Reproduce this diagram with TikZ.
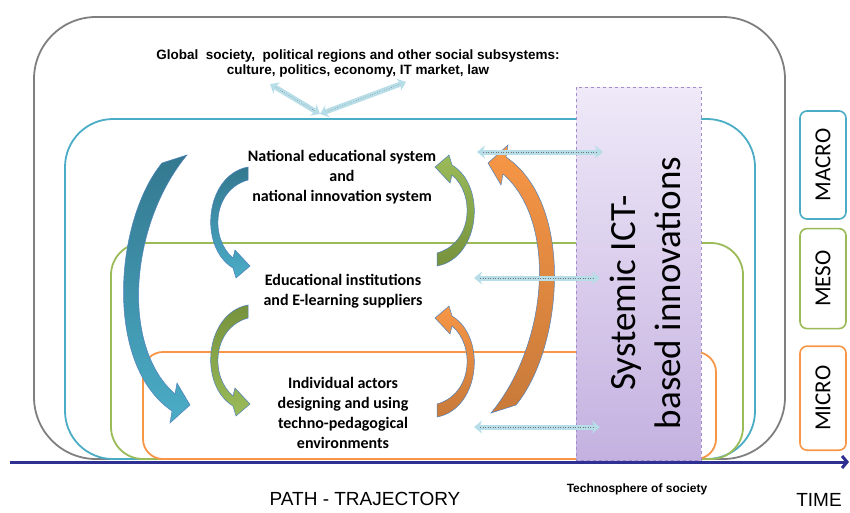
\documentclass[tikz,border=0pt]{standalone}
\usepackage{fontspec}
\setmainfont{Carlito}
\newfontfamily\arialfont{Liberation Sans}
\usetikzlibrary{positioning,arrows.meta}

\definecolor{macroblue}{HTML}{4BACC6}
\definecolor{mesogreen}{HTML}{9BBB59}
\definecolor{microorange}{HTML}{F79646}
\definecolor{outergray}{HTML}{7F7F7F}
\definecolor{axisnavy}{HTML}{2E3192}
\definecolor{linkcyan}{HTML}{B7DEE8}
\definecolor{ictlight}{HTML}{EFE9F8}
\definecolor{ictdark}{HTML}{C4B1E0}
\definecolor{ictborder}{HTML}{A48BC9}
\definecolor{bluedark}{HTML}{33788F}
\definecolor{greendark}{HTML}{76923C}
\definecolor{orangedark}{HTML}{C87A3A}
\definecolor{outlineblue}{HTML}{4F81BD}

\tikzset{
    curveline/.style={draw=outlineblue, line width=0.5pt},
    pics/smallcurve/.style 2 args={code={
        \shade[curveline, top color=#1, bottom color=#2]
            (18,-50) .. controls (-25,-42) and (-32,30) .. (3,51)
            -- (6,61) -- (20,49) -- (5,33) -- (3,41)
            .. controls (-20,22) and (-18,-27) .. (18,-37) -- cycle;
    }},
    pics/bigcurve/.style 2 args={code={
        \shade[curveline, top color=#1, bottom color=#2]
            (-13,-121) .. controls (-60,-64) and (-72,80) .. (-3,127)
            -- (-5,139) -- (15,121) -- (2,99) -- (0,110)
            .. controls (-55,62) and (-45,-60) .. (12,-129) -- cycle;
    }}
}

\begin{document}
\begin{tikzpicture}[x=1pt, y=-1pt,
        ring/.style={rounded corners=#1, line width=1.8pt},
        lvltag/.style={draw, rounded corners=7pt, line width=1.6pt, minimum width=46pt, inner sep=0pt, font=\fontsize{23}{23}\selectfont},
        actor/.style={align=center, font=\fontsize{16}{20}\selectfont\bfseries},
        dblarrow/.style={linkcyan, line width=5pt, {Stealth[length=8pt, width=13pt]}-{Stealth[length=8pt, width=13pt]},
            postaction={draw=black!55, line width=0.5pt, dotted, -, shorten <=6pt, shorten >=6pt}}
    ]
    \useasboundingbox (0,0) rectangle (850,512);

    % Nested levels
    \draw[ring=62pt, outergray] (34,17) rectangle (785,459);
    \draw[ring=48pt, macroblue] (65,119) rectangle (755,459);
    \draw[ring=32pt, mesogreen] (111,243) rectangle (743,459);
    \draw[ring=20pt, microorange] (143,352) rectangle (716,459);

    % Innovation column
    \shade[top color=ictlight, bottom color=ictdark, draw=ictborder, dashed, line width=0.6pt] (576,87) rectangle (701,460);
    \node[rotate=90, align=center, font=\fontsize{37}{45}\selectfont] (ict) at (645,293) {Systemic ICT-\\based innovations};

    % Time axis
    \coordinate (t0) at (10,462);
    \coordinate (t1) at (849,462);
    \draw[axisnavy, line width=3pt, -{Straight Barb[length=5pt, width=12pt]}] (t0) -- (t1);

    % Level texts
    \node[align=center, font=\arialfont\fontsize{13.5}{15}\selectfont\bfseries] (global) at (358,64)
        {Global\ \ society,\ \ political regions and other social subsystems:\\culture, politics, economy, IT market, law};
    \node[actor] (national) at (342,177) {National educational system\\and\\national innovation system};
    \node[actor] (institutions) at (343,291) {Educational institutions\\and E-learning suppliers};
    \node[actor] (individual) at (343,413) {Individual actors\\designing and using\\techno-pedagogical\\environments};

    % Curved flows
    \pic at (175,284) {bigcurve={bluedark}{macroblue}};
    \pic at (230,217) {smallcurve={bluedark}{macroblue}};
    \pic at (230,355) {smallcurve={greendark}{mesogreen}};
    \pic[rotate=180] at (455,216) {smallcurve={mesogreen}{greendark}};
    \pic[rotate=180] at (455,367) {smallcurve={microorange}{orangedark}};
    \pic[rotate=180] at (503,284) {bigcurve={microorange}{orangedark}};

    % Links
    \coordinate (hub) at (320,114);
    \coordinate (gl) at (270,84);
    \coordinate (gr) at (406,82);
    \draw[dblarrow] (hub) -- (gl);
    \draw[dblarrow] (hub) -- (gr);
    \coordinate (nl) at (477,152);
    \coordinate (nr) at (603,152);
    \coordinate (il) at (474,278);
    \coordinate (ir) at (600,278);
    \coordinate (al) at (474,427);
    \coordinate (ar) at (600,427);
    \draw[dblarrow] (nl) -- (nr);
    \draw[dblarrow] (il) -- (ir);
    \draw[dblarrow] (al) -- (ar);

    % Level tags
    \node[lvltag, draw=macroblue, minimum height=108pt] (macro) at (823,165) {\rotatebox{90}{MACRO}};
    \node[lvltag, draw=mesogreen, minimum height=100pt, below=8pt of macro] (meso) {\rotatebox{90}{MESO}};
    \node[lvltag, draw=microorange, minimum height=104pt, below=16pt of meso] (micro) {\rotatebox{90}{MICRO}};

    % Bottom labels
    \node[font=\arialfont\fontsize{19}{19}\selectfont] (path) at (365,499) {PATH - TRAJECTORY};
    \node[font=\arialfont\fontsize{12}{12}\selectfont\bfseries] (techno) at (637,489) {Technosphere of society};
    \node[font=\arialfont\fontsize{19}{19}\selectfont] (time) at (819,500) {TIME};
\end{tikzpicture}
\end{document}
